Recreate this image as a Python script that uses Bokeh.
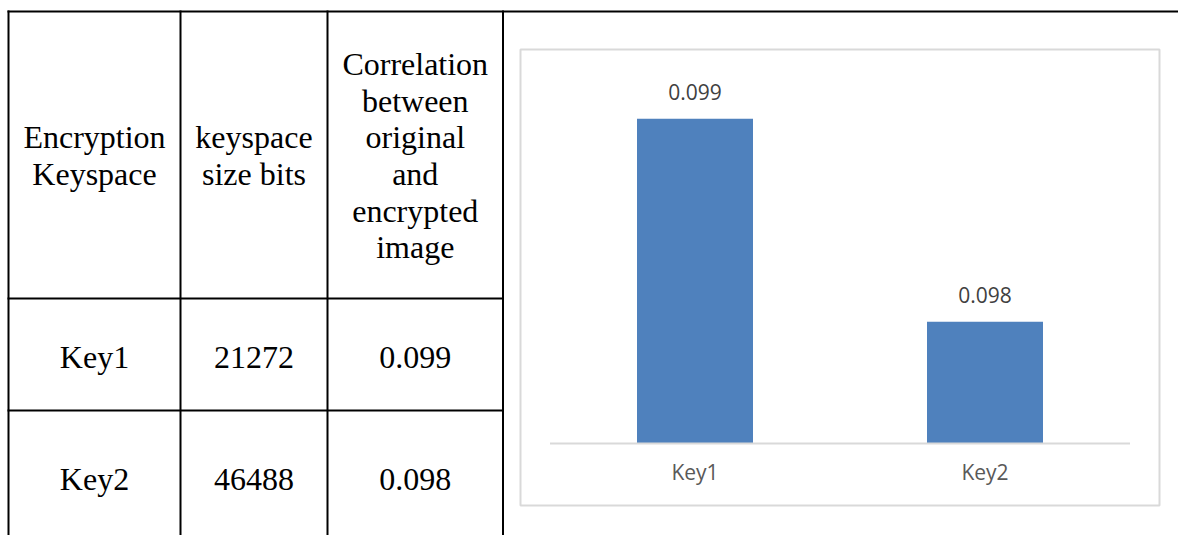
from bokeh.plotting import figure
from bokeh.models import Range1d
from bokeh.core.properties import value
from bokeh.embed import file_html
from bokeh.resources import INLINE

# ---------------- data ----------------
# table
table_headers = ["Encryption\nKeyspace", "keyspace\nsize bits",
                 "Correlation\nbetween\noriginal\nand\nencrypted\nimage"]
table_keys = ["Key1", "Key2"]
keyspace_bits = ["21272", "46488"]
correlation = ["0.099", "0.098"]

# bar chart
categories = ["Key1", "Key2"]
values = [0.099, 0.098]
value_labels = ["0.099", "0.098"]
axis_min = 0.0974

# ---------------- layout (page pixel coordinates) ----------------
W, H = 1178, 535
X0, X1 = 0, W
Y0, Y1 = 0, H
TXT_SHIFT = -9.5  # baseline correction for rendered text

# table geometry
col_edges = [8, 180, 327, 502.5]
row_edges = [11, 298, 410]
table_bottom = 540
col_centers = [(col_edges[i] + col_edges[i + 1]) / 2 for i in range(3)]
header_mid_baseline = 164.6 + TXT_SHIFT
line_step = 36.6
row_baselines = [366 + TXT_SHIFT, 488 + TXT_SHIFT]

# chart geometry
cat0_px, cat_step_px = 694.5, 290.0
base_px = 443.0
px_per_unit = 203000.0

p = figure(width=W, height=H,
           x_range=Range1d(X0, X1), y_range=Range1d(Y1, Y0),
           output_backend="svg", toolbar_location=None,
           x_axis_location=None, y_axis_location=None,
           min_border=0, outline_line_color=None,
           background_fill_color="white", border_fill_color="white")
p.grid.visible = False

p.extra_x_ranges = {"cx": Range1d(-(cat0_px - X0) / cat_step_px,
                                  (X1 - cat0_px) / cat_step_px)}
p.extra_y_ranges = {"cy": Range1d(axis_min - (Y1 - base_px) / px_per_unit,
                                  axis_min + (base_px - Y0) / px_per_unit)}

# ---------------- table lines ----------------
seg_x0, seg_y0, seg_x1, seg_y1 = [], [], [], []
# top border across the whole width
seg_x0.append(7); seg_x1.append(1185); seg_y0.append(row_edges[0]); seg_y1.append(row_edges[0])
# inner horizontal lines of table
for y in row_edges[1:]:
    seg_x0.append(7); seg_x1.append(col_edges[-1] + 1); seg_y0.append(y); seg_y1.append(y)
# vertical lines
for x in col_edges:
    seg_x0.append(x); seg_x1.append(x); seg_y0.append(row_edges[0] - 1); seg_y1.append(table_bottom)
p.segment(x0=seg_x0, y0=seg_y0, x1=seg_x1, y1=seg_y1, line_color="black", line_width=2)

# ---------------- table text ----------------
tx, ty, tt = [], [], []
for c, h in enumerate(table_headers):
    lines = h.split("\n")
    n = len(lines)
    for i, ln in enumerate(lines):
        tx.append(col_centers[c])
        ty.append(header_mid_baseline + (i - (n - 1) / 2) * line_step)
        tt.append(ln)
for r in range(len(table_keys)):
    for c, val in enumerate([table_keys[r], keyspace_bits[r], correlation[r]]):
        tx.append(col_centers[c]); ty.append(row_baselines[r]); tt.append(val)
p.text(x=tx, y=ty, text=tt, text_font=value("Liberation Serif"),
       text_font_size="32px", text_color="black",
       text_align="center", text_baseline="alphabetic")

# ---------------- chart frame box ----------------
p.quad(left=[520], right=[1159], top=[49], bottom=[505],
       fill_color=None, line_color="#d9d9d9", line_width=2)

# ---------------- bars ----------------
idx = list(range(len(categories)))
p.vbar(x=idx, top=values, bottom=axis_min, width=0.4,
       fill_color="#4f81bd", line_color=None,
       x_range_name="cx", y_range_name="cy")

# category axis line
p.segment(x0=[-0.5], x1=[len(categories) - 0.5], y0=[axis_min], y1=[axis_min],
          line_color="#d9d9d9", line_width=2,
          x_range_name="cx", y_range_name="cy")

# data labels
p.text(x=idx, y=values, text=value_labels, y_offset=-17 + TXT_SHIFT,
       text_font=value("Open Sans"), text_font_size="21px", text_color="#404040",
       text_align="center", text_baseline="alphabetic",
       x_range_name="cx", y_range_name="cy")

# category labels
p.text(x=idx, y=[axis_min] * len(idx), text=categories, y_offset=38 + TXT_SHIFT,
       text_font=value("Open Sans"), text_font_size="21px", text_color="#595959",
       text_align="center", text_baseline="alphabetic",
       x_range_name="cx", y_range_name="cy")

open("out.html", "w").write(file_html(p, INLINE))
